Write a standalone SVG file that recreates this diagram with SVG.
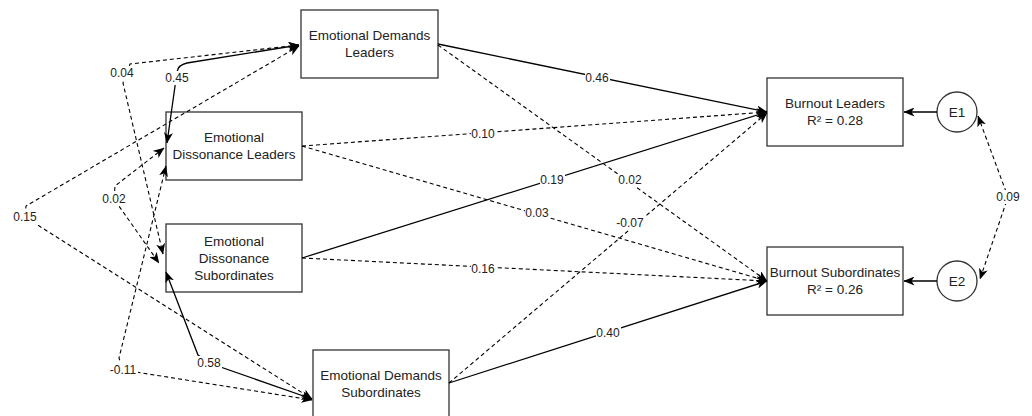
<svg xmlns="http://www.w3.org/2000/svg" width="1032" height="416" viewBox="0 0 1032 416">
<style>
.box{fill:#fff;stroke:#333;stroke-width:1.3}
.ell{fill:#fff;stroke:#333;stroke-width:1.3}
.nt{font-family:"Liberation Sans",Arial,sans-serif;font-size:13.5px;fill:#222;text-anchor:middle}
.ln{fill:none;stroke:#000;stroke-width:1.3}
.ds{stroke-dasharray:4 3;stroke-width:1.1}
.lb rect{fill:#fff}
.lb text{font-family:"Liberation Sans",Arial,sans-serif;font-size:12px;fill:#222;text-anchor:middle}
</style>
<defs>
<marker id="arr" viewBox="0 0 11 9" markerWidth="11" markerHeight="9" refX="10.5" refY="4.5" orient="auto-start-reverse" markerUnits="userSpaceOnUse">
<path d="M0,0 L11,4.5 L0,9 L3,4.5 Z" fill="#000"/>
</marker>
</defs>
<rect width="1032" height="416" fill="#fff"/>
<g id="node-edl"><rect class="box" x="301" y="10" width="137" height="68"/><text class="nt" x="369.5" y="40.3">Emotional Demands</text><text class="nt" x="369.5" y="57.3">Leaders</text></g>
<g id="node-edisl"><rect class="box" x="166" y="112" width="136" height="68"/><text class="nt" x="234" y="142.3">Emotional</text><text class="nt" x="234" y="159.3">Dissonance Leaders</text></g>
<g id="node-ediss"><rect class="box" x="166" y="224" width="136" height="68"/><text class="nt" x="234" y="245.8">Emotional</text><text class="nt" x="234" y="262.8">Dissonance</text><text class="nt" x="234" y="279.8">Subordinates</text></g>
<g id="node-eds"><rect class="box" x="313" y="350" width="136" height="68"/><text class="nt" x="381" y="380.3">Emotional Demands</text><text class="nt" x="381" y="397.3">Subordinates</text></g>
<g id="node-bl"><rect class="box" x="767" y="78" width="136" height="68"/><text class="nt" x="835" y="108.3">Burnout Leaders</text><text class="nt" x="835" y="125.3">R² = 0.28</text></g>
<g id="node-bs"><rect class="box" x="767" y="247" width="136" height="68"/><text class="nt" x="835" y="277.3">Burnout Subordinates</text><text class="nt" x="835" y="294.3">R² = 0.26</text></g>
<g id="node-e1"><circle class="ell" cx="957" cy="112" r="20"/><text class="nt" x="957" y="116.8">E1</text></g>
<g id="node-e2"><circle class="ell" cx="957" cy="281" r="20"/><text class="nt" x="957" y="285.8">E2</text></g>
<g id="connectors">
<!-- covariances among predictors -->
<path class="ln ds" d="M299,45 L130,64 L123,83 L163,254" marker-start="url(#arr)" marker-end="url(#arr)"/>
<path class="ln" d="M299,45 L187,63 Q178,65 177,72 L167,143" marker-start="url(#arr)" marker-end="url(#arr)"/>
<path class="ln ds" d="M299,46 L26,206 L25,217 L312,399" marker-start="url(#arr)" marker-end="url(#arr)"/>
<path class="ln ds" d="M164,148 L115,186 L114,199 L159,263" marker-start="url(#arr)" marker-end="url(#arr)"/>
<path class="ln ds" d="M166,166 L119,358 L123,370 L312,400" marker-start="url(#arr)" marker-end="url(#arr)"/>
<path class="ln" d="M166,272 L198,355 L209,363 L312,399" marker-start="url(#arr)" marker-end="url(#arr)"/>
<!-- regressions -->
<path class="ln" d="M438,44 L767,112" marker-end="url(#arr)"/>
<path class="ln ds" d="M438,45 L767,281" marker-end="url(#arr)"/>
<path class="ln ds" d="M302,146 L767,112" marker-end="url(#arr)"/>
<path class="ln ds" d="M302,146 L767,281" marker-end="url(#arr)"/>
<path class="ln" d="M302,258 L767,112" marker-end="url(#arr)"/>
<path class="ln ds" d="M302,258 L767,281" marker-end="url(#arr)"/>
<path class="ln ds" d="M449,383 L767,113" marker-end="url(#arr)"/>
<path class="ln" d="M449,383 L767,281" marker-end="url(#arr)"/>
<!-- residuals -->
<path class="ln" d="M937,112 L904,112" marker-end="url(#arr)"/>
<path class="ln" d="M937,281 L904,281" marker-end="url(#arr)"/>
<path class="ln ds" d="M978,116 L1008,197 L980,279" marker-start="url(#arr)" marker-end="url(#arr)"/>
<!-- labels -->
<g class="lb"><rect x="110" y="66" width="25" height="14"/><text x="122" y="77.3">0.04</text></g>
<g class="lb"><rect x="165" y="71" width="25" height="14"/><text x="177" y="82.3">0.45</text></g>
<g class="lb"><rect x="102" y="192" width="25" height="14"/><text x="114" y="203.3">0.02</text></g>
<g class="lb"><rect x="13" y="210" width="25" height="14"/><text x="25" y="221.3">0.15</text></g>
<g class="lb"><rect x="109" y="363" width="29" height="14"/><text x="123" y="374.3">-0.11</text></g>
<g class="lb"><rect x="197" y="356" width="25" height="14"/><text x="209" y="367.3">0.58</text></g>
<g class="lb"><rect x="585" y="71" width="25" height="14"/><text x="597" y="82.3">0.46</text></g>
<g class="lb"><rect x="471" y="127" width="25" height="14"/><text x="483" y="138.3">0.10</text></g>
<g class="lb"><rect x="540" y="173" width="25" height="14"/><text x="552" y="184.3">0.19</text></g>
<g class="lb"><rect x="618" y="173" width="25" height="14"/><text x="630" y="184.3">0.02</text></g>
<g class="lb"><rect x="525" y="206" width="25" height="14"/><text x="537" y="217.3">0.03</text></g>
<g class="lb"><rect x="616" y="216" width="29" height="14"/><text x="630" y="227.3">-0.07</text></g>
<g class="lb"><rect x="471" y="262" width="25" height="14"/><text x="483" y="273.3">0.16</text></g>
<g class="lb"><rect x="596" y="326" width="25" height="14"/><text x="608" y="337.3">0.40</text></g>
<g class="lb"><rect x="996" y="190" width="25" height="14"/><text x="1008" y="201.3">0.09</text></g>
</g>
</svg>
